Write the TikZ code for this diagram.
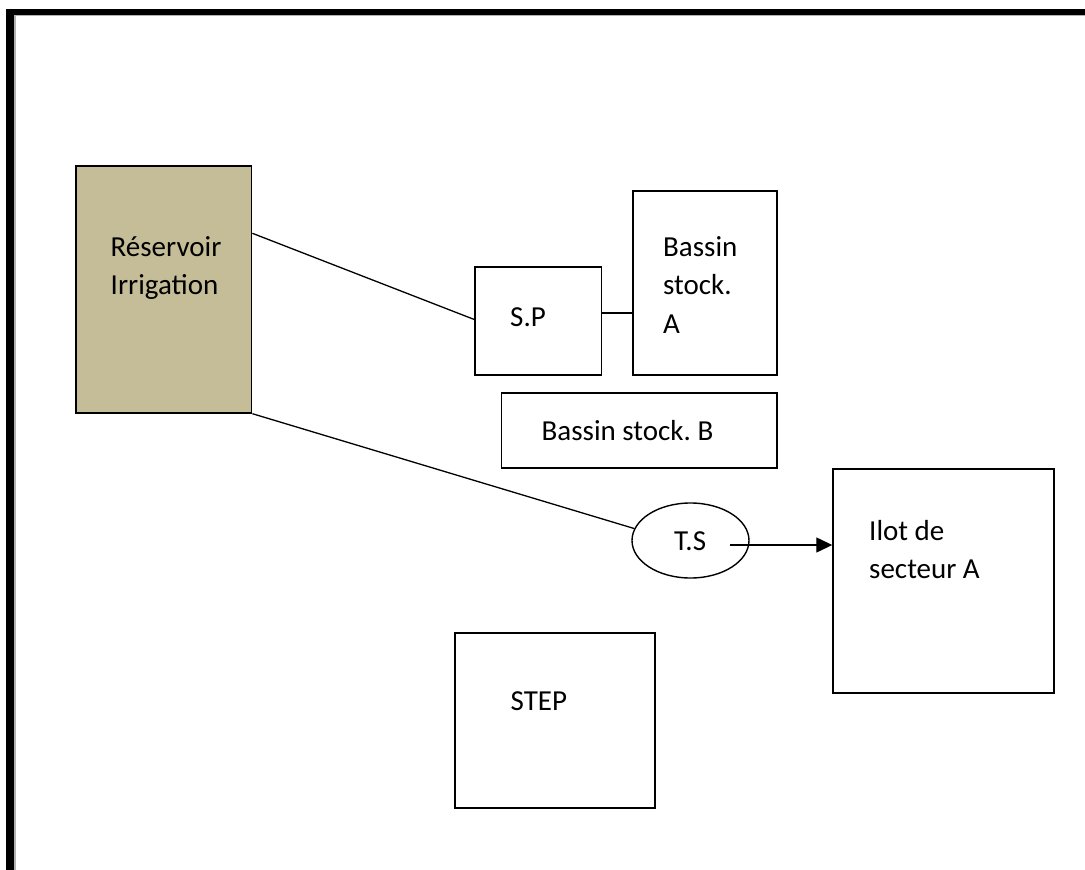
\documentclass[tikz,border=0pt]{standalone}
\usepackage{fontspec}
\setmainfont{Carlito}
\frenchspacing
\usetikzlibrary{arrows.meta,shapes.geometric}
\definecolor{tanfill}{HTML}{C4BD97}
\begin{document}
\begin{tikzpicture}[x=1pt,y=-1pt,
  box/.style={draw=black,line width=1.4pt,rectangle,inner sep=0pt},
  lbl/.style={anchor=base west,inner sep=0pt,font=\fontsize{29}{38.5}\selectfont,align=left},
  link/.style={draw=black,line width=1.3pt}]
\useasboundingbox (0,0) rectangle (1085,870);
% outer frame (left and top edges only)
\draw[line width=8pt] (10,9) -- (10,870);
\draw[line width=6pt] (6,12) -- (1085,12);
\draw[gray!60,line width=1.5pt] (14.8,15) -- (14.8,870);
\draw[gray!60,line width=1.5pt] (14,15.7) -- (1085,15.7);
% boxes
\node[box,fill=tanfill,minimum width=175.7pt,minimum height=247pt] (res) at (163.85,289.5) {};
\node[box,minimum width=126.7pt,minimum height=108pt] (sp) at (538.35,321) {};
\node[box,minimum width=144pt,minimum height=184pt] (ba) at (705,283) {};
\node[box,minimum width=275.3pt,minimum height=75pt] (bb) at (639.35,430.5) {};
\node[box,ellipse,minimum width=117pt,minimum height=75pt] (ts) at (690.5,540.5) {};
\node[box,minimum width=221pt,minimum height=224pt] (ilot) at (943.5,581) {};
\node[box,minimum width=200pt,minimum height=175pt] (step) at (555,720.5) {};
% labels (base anchor sits on the last line's baseline)
\node[lbl] (resT) at (110.5,294.5) {Réservoir\\Irrigation};
\node[lbl] (spT) at (510,326.5) {S.P};
\node[lbl] (baT) at (663,333) {Bassin\\stock.\\A};
\node[lbl] (bbT) at (541.5,440) {Bassin stock. B};
\node[lbl] (tsT) at (674,550.5) {T.S};
\node[lbl] (ilotT) at (869,578.5) {Ilot de\\secteur A};
\node[lbl] (stepT) at (510.5,710.5) {STEP};
% connectors
\draw[link] ([yshift=-68pt]res.north east) -- ([yshift=1.5pt]sp.west);
\draw[link] (res.south east) -- (ts.168);
\draw[link] ([yshift=8pt]sp.east) -- ([yshift=8pt]sp.east -| ba.west);
\coordinate (tsout) at (730,545);
\draw[link,-{Triangle[length=16pt,width=15pt]}] (tsout) -- (tsout -| ilot.west);
\end{tikzpicture}
\end{document}
